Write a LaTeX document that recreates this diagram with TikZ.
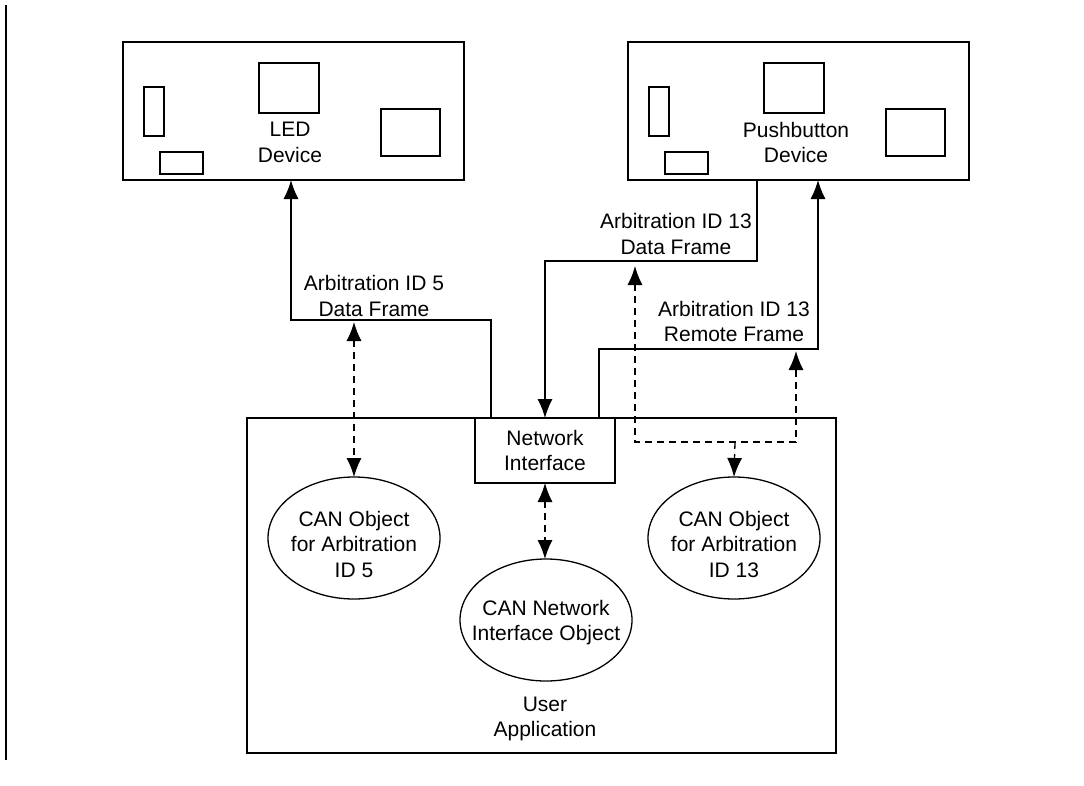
\documentclass[tikz,border=0pt]{standalone}
\usepackage{fontspec}
\setmainfont{Liberation Sans}
\usetikzlibrary{arrows.meta,shapes.geometric}
\begin{document}
\begin{tikzpicture}[x=1pt,y=-1pt,
  line width=1.3pt,
  every node/.style={font=\fontsize{21}{25.5}\selectfont, align=center, inner sep=0pt, outer sep=0pt},
  boxnode/.style={draw, rectangle, line width=1.3pt},
  objnode/.style={draw, ellipse, minimum width=172pt, minimum height=122pt, line width=1.3pt},
  lbl/.style={},
  tip/.style={-{Latex[length=19pt,width=15pt]}},
  dtip/.style={{Latex[length=19pt,width=15pt]}-{Latex[length=19pt,width=15pt]}, dash pattern=on 7pt off 5pt},
  dline/.style={dash pattern=on 7pt off 5pt},
  part/.style={line width=1.2pt}
]
\useasboundingbox (0,0) rectangle (1084,785);
\draw[line width=2.6pt] (6,5) -- (6,760);

% devices
\node[boxnode, minimum width=341pt, minimum height=138pt] (led) at (293.5,111) {};
\node[boxnode, minimum width=341pt, minimum height=138pt] (pb) at (798.5,111) {};
\foreach \xo in {123,628}{
  \draw[part] (\xo+21,87) rectangle (\xo+41,136);
  \draw[part] (\xo+37,152) rectangle (\xo+80,174);
  \draw[part] (\xo+136,63) rectangle (\xo+196,113);
  \draw[part] (\xo+258,109) rectangle (\xo+317,156);
}
\node (ledtxt) at (290,142.5) {LED\\Device};
\node (pbtxt) at (796,142.5) {Pushbutton\\Device};

% user application
\node[boxnode, minimum width=589pt, minimum height=335pt] (ua) at (541.5,585.5) {};
\node[boxnode, fill=white, minimum width=140pt, minimum height=65pt] (ni) at (545,450.5) {Network\\Interface};
\node[objnode] (e5) at (354,538) {};
\node (e5txt) at (354,544) {CAN Object\\for Arbitration\\ID 5};
\node[objnode] (enet) at (546,620) {};
\node (enettxt) at (546,622.5) {CAN Network\\Interface Object};
\node[objnode] (e13) at (734,538) {};
\node (e13txt) at (734,544) {CAN Object\\for Arbitration\\ID 13};
\node (uatxt) at (545,719) {User\\Application};

% labels
\node[lbl] (l5) at (374,296) {Arbitration ID 5\\Data Frame};
\node[lbl] (l13d) at (676,234) {Arbitration ID 13\\Data Frame};
\node[lbl] (l13r) at (734,321.5) {Arbitration ID 13\\Remote Frame};

% bend points
\coordinate (c1a) at (491,320);
\coordinate (c1b) at (291,320);
\coordinate (c2a) at (757,261);
\coordinate (c2b) at (545,261);
\coordinate (c3a) at (599,349);
\coordinate (c3b) at (818,349);
\coordinate (d1) at (354,322);
\coordinate (d2top) at (635,266);
\coordinate (d2a) at (635,442);
\coordinate (d2b) at (796,442);
\coordinate (d2c) at (735,442);
\coordinate (d2tip) at (796,351);

% solid connectors
\draw[tip] (ni.north -| c1a) -- (c1a) -- (c1b) -- (c1b |- led.south);
\draw[tip] (c2a |- pb.south) -- (c2a) -- (c2b) -- (ni.north);
\draw[tip] (ni.north -| c3a) -- (c3a) -- (c3b) -- (c3b |- pb.south);

% dashed connectors
\draw[dtip] (d1) -- (e5.north);
\draw[dtip] (ni.south) -- (enet.north -| ni.south);
\draw[dline, {Latex[length=19pt,width=15pt]}-{Latex[length=19pt,width=15pt]}] (d2top) -- (d2a) -- (d2b) -- (d2tip);
\draw[dline, tip] (d2c) -- (e13.north);
\end{tikzpicture}
\end{document}
